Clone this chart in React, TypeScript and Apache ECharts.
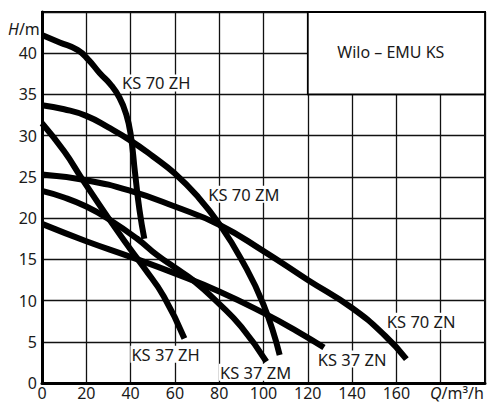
import React, { useEffect, useRef } from "react";
import * as echarts from "echarts";

// Q (m³/h), H (m) pairs
const ks70zh: [number, number][] = [
  [0, 42.2], [8, 41.3], [16, 40.4], [21, 39.2], [26, 37.6], [31, 36.2],
  [35, 34.6], [38, 32.6], [40, 30.2], [42, 25.5], [44, 21], [46.2, 17.5],
];
const ks70zm: [number, number][] = [
  [0, 33.7], [10, 33.2], [20, 32.4], [30, 31], [40, 29.4], [50, 27.5],
  [60, 25.4], [70, 22.7], [80, 19.3], [90, 15], [100, 9.5], [107.3, 3.4],
];
const ks70zn: [number, number][] = [
  [0, 25.3], [20, 24.6], [40, 23.3], [60, 21.4], [80, 19.2], [100, 16.0],
  [120, 12.5], [140, 9.1], [155, 5.7], [164.5, 2.9],
];
const ks37zh: [number, number][] = [
  [0, 31.5], [10, 28.1], [18, 24.8], [30, 20], [40, 16.2], [46, 14],
  [55, 10.5], [64.3, 5.4],
];
const ks37zm: [number, number][] = [
  [0, 23.3], [10, 22.5], [20, 21.4], [30, 19.9], [43, 17.5], [52, 15.5],
  [60, 14], [68, 12.5], [80, 9.6], [90, 6.8], [101.3, 2.6],
];
const ks37zn: [number, number][] = [
  [0, 19.3], [20, 17.2], [40, 15.3], [60, 13.3], [80, 11.1], [100, 8.5],
  [115, 6.3], [127.3, 4.3],
];

const seriesNames = ["KS 70 ZH", "KS 70 ZM", "KS 70 ZN", "KS 37 ZH", "KS 37 ZM", "KS 37 ZN"];
const seriesData = [ks70zh, ks70zm, ks70zn, ks37zh, ks37zm, ks37zn];
// label anchor points in data coordinates (Q, H)
const labelQ = [51.6, 91.1, 171.2, 55.8, 96.4, 140];
const labelH = [36.4, 22.9, 7.5, 3.5, 1.3, 2.9];

const boxTitle = "Wilo – EMU KS";
const boxFrom: [number, number] = [120, 35];
const boxTo: [number, number] = [200, 45];
const boxTitleAt: [number, number] = [157.5, 40.2];

const FONT = "Noto Sans";

export default function App() {
  const ref = useRef<HTMLDivElement>(null);
  useEffect(() => {
    if (!ref.current) return;
    const chart = echarts.init(ref.current, undefined, { renderer: "svg" });
    const labelStyle = {
      show: true,
      position: "inside" as const,
      color: "#1a1a1a",
      fontSize: 16.5,
      fontFamily: FONT,
      backgroundColor: "#fff",
      padding: [0, 1],
    };
    const series: any[] = seriesData.map((d, i) => ({
      type: "line",
      name: seriesNames[i],
      data: d,
      showSymbol: false,
      smooth: 0.5,
      lineStyle: { color: "#000", width: 6, cap: "butt" },
      z: 3,
      markPoint: {
        symbol: "rect",
        symbolSize: 0,
        silent: true,
        data: [{ coord: [labelQ[i], labelH[i]], value: seriesNames[i] }],
        label: { ...labelStyle, formatter: seriesNames[i] },
      },
    }));
    series.push({
      type: "line",
      data: [],
      markArea: {
        silent: true,
        itemStyle: { color: "#fff", borderColor: "#000", borderWidth: 1.8 },
        data: [[{ coord: boxFrom }, { coord: boxTo }]],
      },
      markPoint: {
        symbol: "rect",
        symbolSize: 0,
        silent: true,
        data: [{ coord: boxTitleAt, value: boxTitle }],
        label: { show: true, position: "inside", formatter: boxTitle, color: "#1a1a1a", fontSize: 16, fontFamily: FONT },
      },
    });
    chart.setOption({
      animation: false,
      grid: {
        left: 42,
        top: 12,
        width: 450,
        height: 371,
        show: true,
        borderColor: "#000",
        borderWidth: 2,
        backgroundColor: "transparent",
      },
      xAxis: {
        type: "value",
        min: 0,
        max: 200,
        interval: 20,
        axisLine: { show: true, onZero: false, lineStyle: { color: "#000", width: 3 } },
        axisTick: { show: false },
        splitLine: { show: true, lineStyle: { color: "#111", width: 1.3 } },
        axisLabel: {
          margin: 3,
          fontSize: 16,
          lineHeight: 14,
          fontFamily: FONT,
          color: "#1a1a1a",
          formatter: (v: number) => (v >= 180 ? "" : String(v)),
        },
      },
      yAxis: {
        type: "value",
        min: 0,
        max: 45,
        interval: 5,
        axisLine: { show: true, onZero: false, lineStyle: { color: "#000", width: 3 } },
        axisTick: { show: false },
        splitLine: { show: true, lineStyle: { color: "#111", width: 1.3 } },
        axisLabel: {
          margin: 5,
          fontSize: 16,
          fontFamily: FONT,
          color: "#1a1a1a",
          formatter: (v: number) => (v >= 45 ? "" : String(v)),
        },
      },
      graphic: [
        {
          type: "text",
          x: 8,
          y: 29,
          style: {
            text: "{i|H}{n|/m}",
            verticalAlign: "middle",
            rich: {
              i: { fontStyle: "italic", fontSize: 16, lineHeight: 16, fontFamily: FONT, fill: "#1a1a1a" },
              n: { fontSize: 16, lineHeight: 16, fontFamily: FONT, fill: "#1a1a1a" },
            },
          },
        },
        {
          type: "text",
          x: 430,
          y: 393,
          style: {
            text: "{i|Q}{n|/m³/h}",
            verticalAlign: "middle",
            rich: {
              i: { fontStyle: "italic", fontSize: 16, lineHeight: 14, fontFamily: FONT, fill: "#1a1a1a" },
              n: { fontSize: 16, lineHeight: 14, fontFamily: FONT, fill: "#1a1a1a" },
            },
          },
        },
      ],
      series,
    });
    return () => chart.dispose();
  }, []);
  return (
    <div
      ref={ref}
      style={{ position: "absolute", left: 0, top: 0, width: 488, height: 404, background: "#fff" }}
    />
  );
}
